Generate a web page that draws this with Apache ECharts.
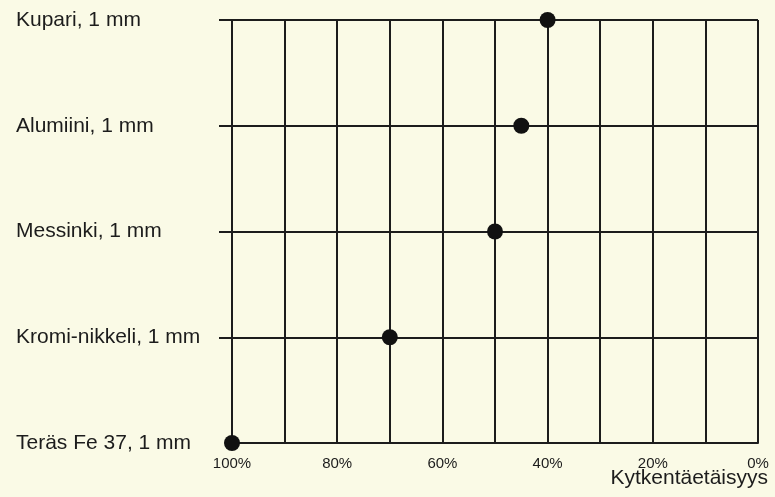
<!DOCTYPE html>
<html><head><meta charset="utf-8">
<script src="https://cdn.jsdelivr.net/npm/echarts@6/dist/echarts.min.js"></script>
<style>html,body{margin:0;padding:0;background:#fafae6;}#c{width:775px;height:497px;}</style>
</head><body><div id="c"></div>
<script>
const categories = ['Teräs Fe 37, 1 mm', 'Kromi-nikkeli, 1 mm', 'Messinki, 1 mm', 'Alumiini, 1 mm', 'Kupari, 1 mm'];
const values = [100, 70, 50, 45, 40];
const axisTitle = 'Kytkentäetäisyys';

const chart = echarts.init(document.getElementById('c'));
const ink = '#1c1c1c';
chart.setOption({
  backgroundColor: '#fafae6',
  animation: false,
  title: { text: axisTitle, right: 2, top: 463, textStyle: { fontFamily: 'Liberation Sans', fontSize: 21, fontWeight: 'normal', color: ink } },
  grid: { left: 232, right: 17, top: 20, bottom: 54 },
  xAxis: {
    type: 'value', min: 0, max: 100, interval: 10, inverse: true,
    axisLine: { show: true, onZero: false, lineStyle: { color: ink, width: 2 } },
    axisTick: { show: false },
    splitLine: { show: true, lineStyle: { color: ink, width: 2 } },
    axisLabel: { margin: 13, fontFamily: 'Liberation Sans', fontSize: 15, color: ink,
      formatter: v => (v % 20 === 0 ? v + '%' : '') }
  },
  yAxis: {
    type: 'category', data: categories, boundaryGap: false, position: 'left',
    axisLine: { show: true, onZero: false, lineStyle: { color: ink, width: 2 } },
    axisTick: { show: true, inside: false, length: 13, interval: (i) => i !== 0, lineStyle: { color: ink, width: 2 } },
    splitLine: { show: true, lineStyle: { color: ink, width: 2 } },
    axisLabel: { align: 'left', margin: 216, fontFamily: 'Liberation Sans', fontSize: 21, color: ink }
  },
  series: [{
    type: 'scatter', data: values.map((v, i) => [v, categories[i]]),
    symbolSize: 16, itemStyle: { color: '#111', opacity: 1 }, z: 5
  }]
});
</script></body></html>
